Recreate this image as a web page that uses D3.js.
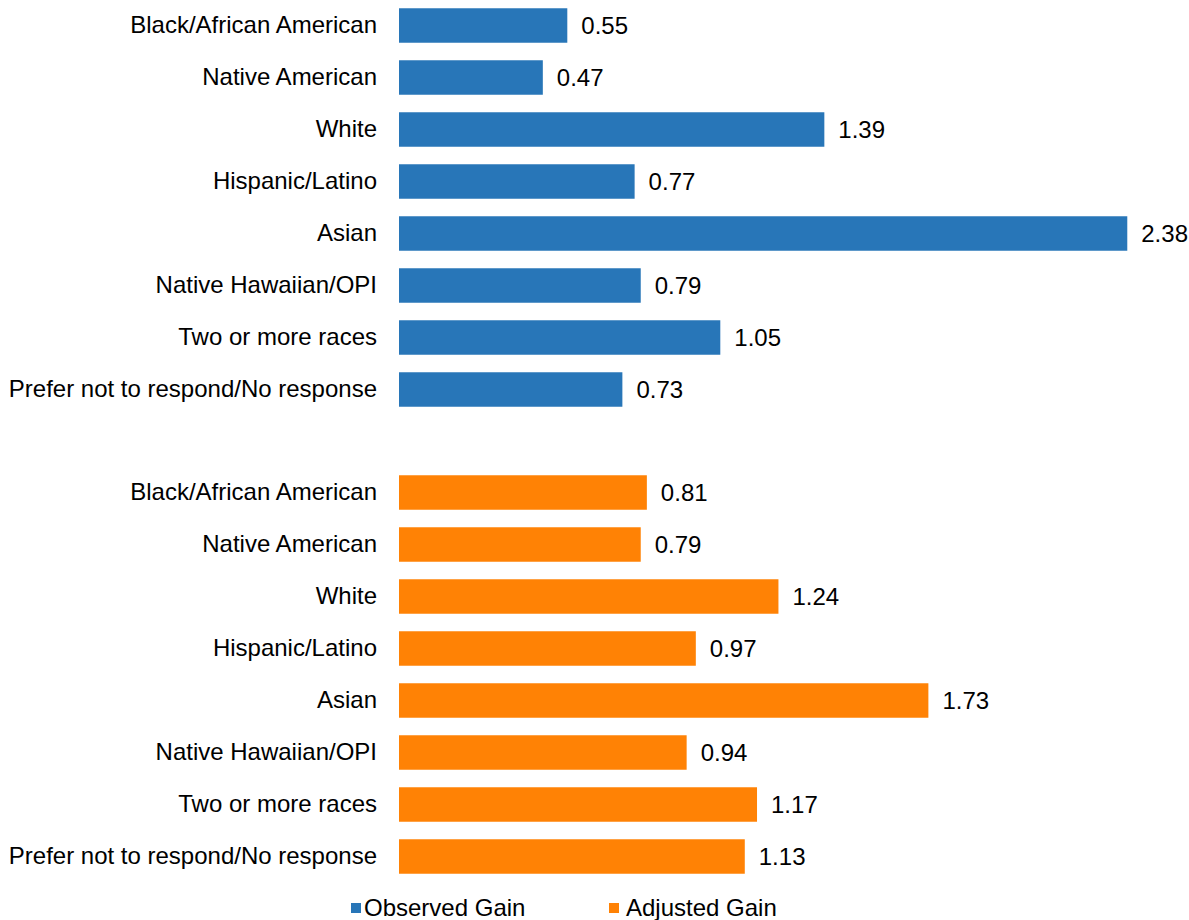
<!DOCTYPE html>
<html><head><meta charset="utf-8">
<script src="https://cdn.jsdelivr.net/npm/d3@7"></script>
<style>body{margin:0;background:#fff}svg{display:block}text{font-family:"Liberation Sans",Arial,sans-serif;fill:#000}</style>
</head><body><svg id="c" width="1189" height="920"></svg>
<script>
const categories = ["Black/African American","Native American","White","Hispanic/Latino","Asian","Native Hawaiian/OPI","Two or more races","Prefer not to respond/No response"];
const observedGain = [0.55,0.47,1.39,0.77,2.38,0.79,1.05,0.73];
const adjustedGain = [0.81,0.79,1.24,0.97,1.73,0.94,1.17,1.13];
const seriesNames = ["Observed Gain","Adjusted Gain"];
const colors = ["#2876B8","#FF8205"];
const FS = 24;

const svg = d3.select("#c");
const x = d3.scaleLinear().domain([0,2.5]).range([399,399+2.5*306]);
const panels = [
  {vals: observedGain, range:[-0.5,415.5], color: colors[0]},
  {vals: adjustedGain, range:[466.5,882.5], color: colors[1]}
];
panels.forEach(p=>{
  const y = d3.scaleBand().domain(categories).range(p.range).paddingInner(0.337).paddingOuter(0.1685);
  const g = svg.append("g");
  g.selectAll("rect").data(categories).join("rect")
    .attr("x", x(0)).attr("y", d=>y(d))
    .attr("width", (d,i)=>x(p.vals[i])-x(0)).attr("height", y.bandwidth())
    .attr("fill", p.color);
  g.selectAll("text.v").data(categories).join("text").attr("class","v")
    .attr("x",(d,i)=>x(p.vals[i])+14).attr("y",d=>y(d)+y.bandwidth()/2)
    .attr("dy","0.35em").attr("font-size",FS).text((d,i)=>p.vals[i].toFixed(2));
  const ax = d3.axisLeft(y).tickSize(0).tickPadding(0);
  const ag = g.append("g").attr("transform",`translate(${x(0)-22},0)`).call(ax);
  ag.select(".domain").remove();
  ag.selectAll("text").attr("font-size",FS).attr("font-family",'"Liberation Sans",Arial,sans-serif').attr("fill","#000");
});
// legend
const leg = svg.append("g");
const legX = [351, 609];
seriesNames.forEach((n,i)=>{
  leg.append("rect").attr("x",legX[i]).attr("y",903).attr("width",10).attr("height",10).attr("fill",colors[i]);
  leg.append("text").attr("x",legX[i]+13 + i*4).attr("y",916).attr("font-size",FS).text(n);
});
</script></body></html>
